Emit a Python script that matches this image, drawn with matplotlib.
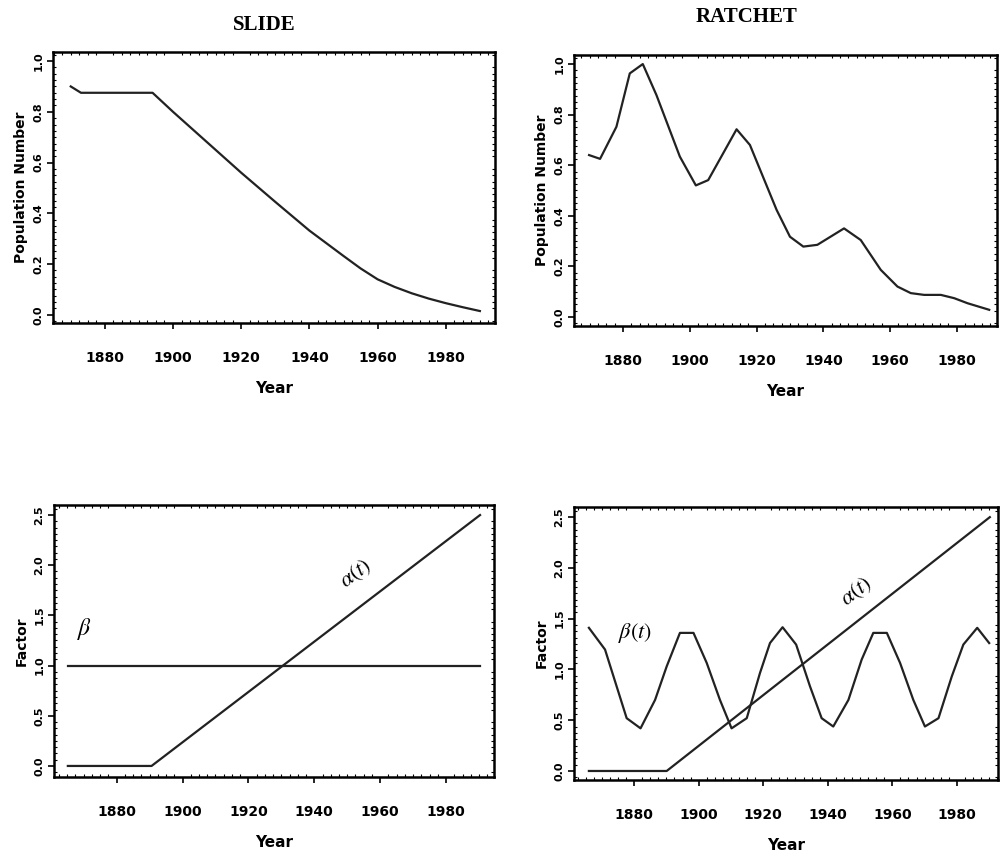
import matplotlib
matplotlib.use("Agg")
import matplotlib.pyplot as plt
from matplotlib.ticker import MultipleLocator

plt.rcParams['mathtext.fontset'] = 'stix'

# slide: population
slide_years = [1870, 1873, 1894, 1900, 1910, 1920, 1930, 1940, 1950, 1955, 1960, 1965,
               1970, 1975, 1980, 1985, 1990]
slide_pop = [0.90, 0.875, 0.875, 0.80, 0.68, 0.56, 0.445, 0.332, 0.232, 0.183, 0.14, 0.11,
             0.085, 0.064, 0.046, 0.03, 0.015]

# ratchet: population
ratchet_years = [1869.8, 1873.1, 1878, 1882, 1885.9, 1890, 1897, 1901.8, 1905.5, 1914, 1918,
                 1926, 1930, 1934, 1938.2, 1946.2, 1951.2, 1957.2, 1962.2, 1966.2, 1970.2,
                 1975.2, 1979.2, 1983.2, 1989.7]
ratchet_pop = [0.64, 0.625, 0.752, 0.963, 1.0, 0.877, 0.634, 0.52, 0.541, 0.742, 0.68,
               0.423, 0.317, 0.278, 0.285, 0.35, 0.304, 0.186, 0.12, 0.094, 0.087,
               0.087, 0.074, 0.054, 0.028]

# slide: factors
slide_alpha_years = [1865.2, 1890.6, 1990.3]
slide_alpha = [0.0, 0.0, 2.5]
slide_beta_years = [1865.2, 1990.3]
slide_beta = [1.0, 1.0]

# ratchet: factors
ratchet_alpha_years = [1866, 1890.1, 1990.2]
ratchet_alpha = [0.0, 0.0, 2.5]
ratchet_beta_years = [1866, 1871, 1877.7, 1882, 1886.5, 1890.1, 1894.2, 1898.4, 1902.5, 1906.6,
                      1910.2, 1914.9, 1919, 1922.1, 1926, 1930.2, 1934.5, 1938.1, 1941.7,
                      1946.4, 1950.5, 1954.1, 1958.3, 1962.4, 1966.5, 1970.1, 1974.3,
                      1978.4, 1982, 1986.3, 1990]
ratchet_beta = [1.41, 1.196, 0.52, 0.42, 0.70, 1.03, 1.36, 1.36, 1.064, 0.70,
                0.42, 0.52, 0.965, 1.26, 1.416, 1.245, 0.833, 0.52, 0.438,
                0.70, 1.097, 1.36, 1.36, 1.064, 0.70, 0.438, 0.52,
                0.93, 1.245, 1.41, 1.26]

year_ticks = [1880, 1900, 1920, 1940, 1960, 1980]
pop_ticks = [0.0, 0.2, 0.4, 0.6, 0.8, 1.0]
factor_ticks = [0.0, 0.5, 1.0, 1.5, 2.0, 2.5]

tick_font = ['Liberation Sans Narrow', 'DejaVu Sans']
line_kw = dict(color='#222222', lw=1.6)

fig = plt.figure(figsize=(10.02, 8.64), dpi=100)


def style_axes(ax, xlim, ylim, yticks, ylabel, yminor):
    ax.set_xlim(*xlim)
    ax.set_ylim(*ylim)
    ax.set_xticks(year_ticks)
    ax.set_yticks(yticks)
    ax.set_xticklabels([str(y) for y in year_ticks], family=tick_font,
                       fontweight='bold', fontsize=10)
    ax.set_yticklabels(['%.1f' % v for v in yticks], rotation=90, va='center',
                       fontsize=8, fontweight='bold')
    ax.tick_params(axis='x', direction='out', length=4, width=1.2, pad=16)
    ax.tick_params(axis='y', direction='out', length=4, width=1.2, pad=3)
    ax.xaxis.set_minor_locator(MultipleLocator(2.5))
    ax.yaxis.set_minor_locator(MultipleLocator(yminor))
    ax.tick_params(which='minor', direction='in', length=2, width=0.8,
                   top=True, right=True)
    for s in ax.spines.values():
        s.set_linewidth(1.8)
    ax.set_xlabel('Year', family=tick_font, fontweight='bold', fontsize=11, labelpad=12)
    ax.set_ylabel(ylabel, fontweight='bold', fontsize=10, labelpad=4)


ax1 = fig.add_axes([0.0529, 0.6262, 0.441, 0.3137])
ax1.plot(slide_years, slide_pop, **line_kw)
style_axes(ax1, (1864.8, 1994.4), (-0.032, 1.036), pop_ticks, 'Population Number', 0.025)

ax2 = fig.add_axes([0.5729, 0.6227, 0.422, 0.3137])
ax2.plot(ratchet_years, ratchet_pop, **line_kw)
style_axes(ax2, (1865.3, 1992.0), (-0.036, 1.036), pop_ticks, 'Population Number', 0.025)

ax3 = fig.add_axes([0.0539, 0.1007, 0.439, 0.3148])
ax3.plot(slide_alpha_years, slide_alpha, **line_kw)
ax3.plot(slide_beta_years, slide_beta, **line_kw)
style_axes(ax3, (1861.0, 1994.5), (-0.11, 2.6), factor_ticks, 'Factor', 0.0625)
ax3.text(1870.3, 1.36, r'$\beta$', fontsize=17, ha='center', va='center')
ax3.text(1952.7, 1.92, r'$\alpha(t)$', fontsize=16, ha='center', va='center', rotation=37)

ax4 = fig.add_axes([0.5729, 0.0972, 0.423, 0.316])
ax4.plot(ratchet_alpha_years, ratchet_alpha, **line_kw)
ax4.plot(ratchet_beta_years, ratchet_beta, **line_kw)
style_axes(ax4, (1861.4, 1992.7), (-0.089, 2.6), factor_ticks, 'Factor', 0.0625)
ax4.text(1880.3, 1.36, r'$\beta(t)$', fontsize=16, ha='center', va='center')
ax4.text(1949.0, 1.77, r'$\alpha(t)$', fontsize=16, ha='center', va='center', rotation=38)

fig.text(264 / 1002, 1 - 25 / 864, 'SLIDE', family=['Liberation Serif', 'DejaVu Serif'],
         fontsize=15, fontweight='bold', ha='center', va='center')
fig.text(747 / 1002, 1 - 17 / 864, 'RATCHET', family=['Liberation Serif', 'DejaVu Serif'],
         fontsize=15, fontweight='bold', ha='center', va='center')

fig.savefig('out.png', dpi=100)
